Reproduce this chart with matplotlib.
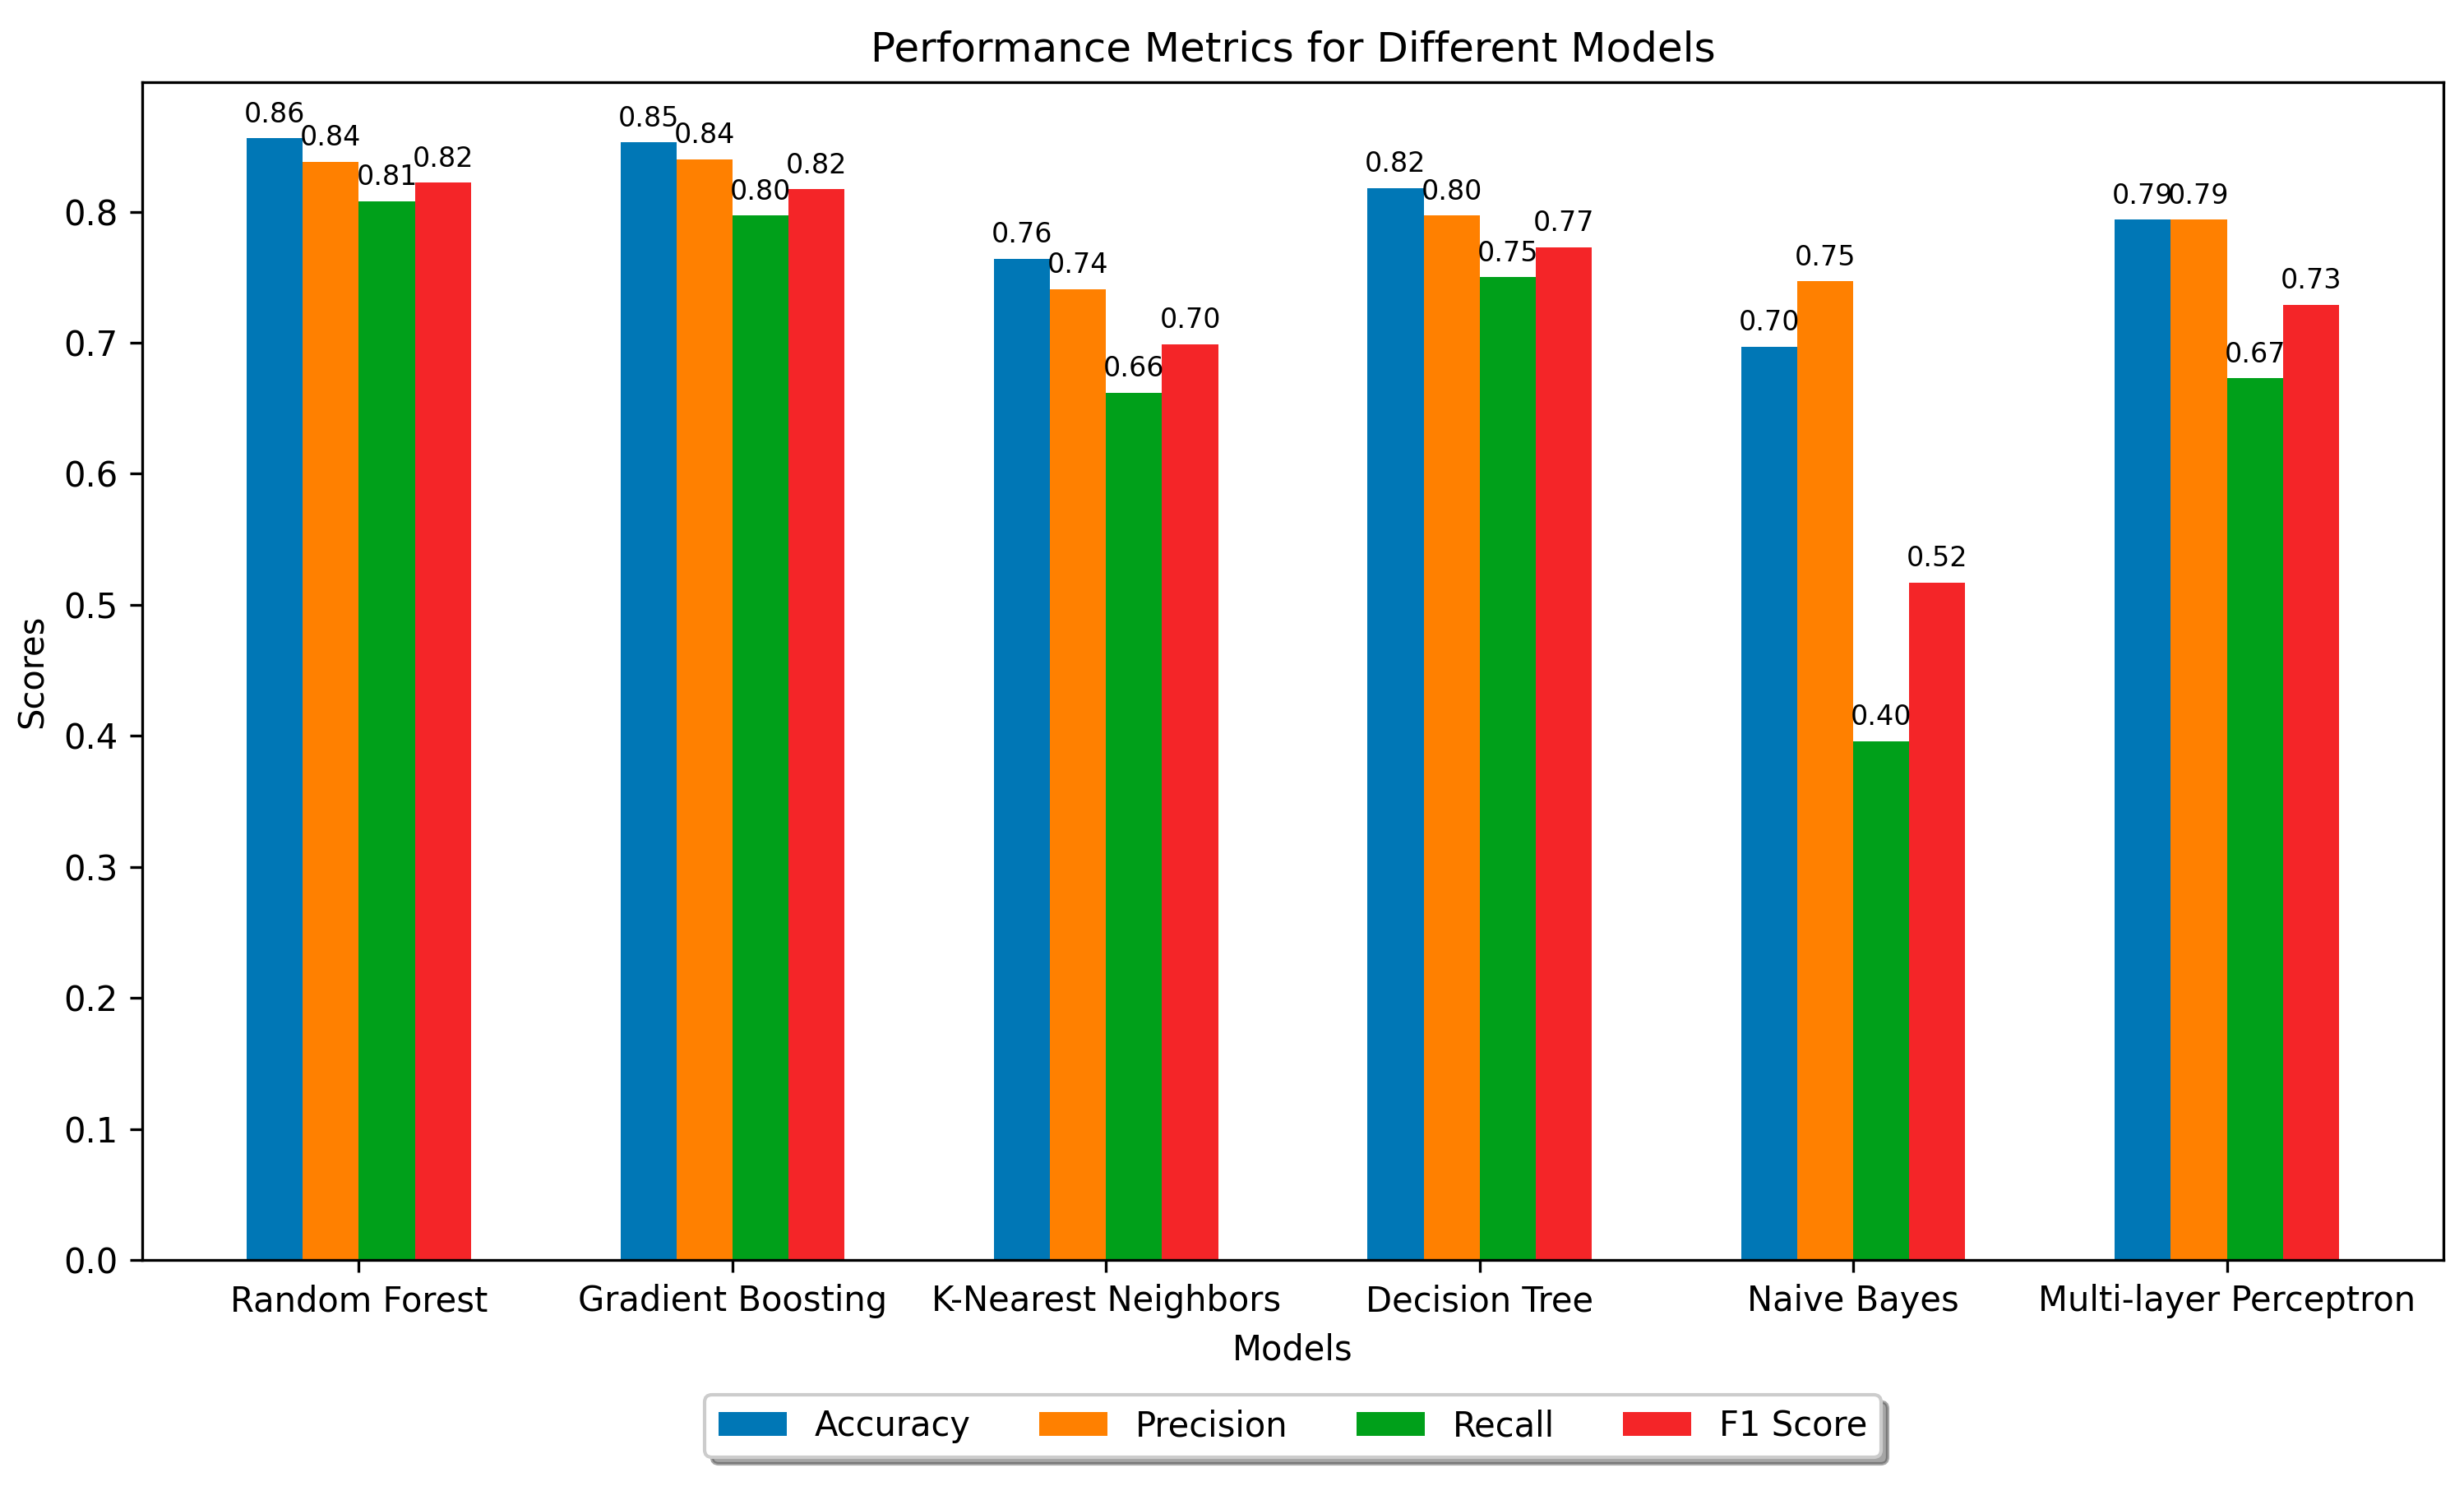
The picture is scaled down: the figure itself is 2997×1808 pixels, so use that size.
import matplotlib
matplotlib.use("Agg")
import matplotlib.pyplot as plt
import numpy as np

# Scores
models = ['Random Forest', 'Gradient Boosting', 'K-Nearest Neighbors',
          'Decision Tree', 'Naive Bayes', 'Multi-layer Perceptron']
accuracy = [0.856, 0.853, 0.764, 0.818, 0.697, 0.794]
precision = [0.838, 0.840, 0.741, 0.797, 0.747, 0.794]
recall = [0.808, 0.797, 0.662, 0.750, 0.396, 0.673]
f1_score = [0.822, 0.817, 0.699, 0.773, 0.517, 0.729]

metrics = {'Accuracy': accuracy, 'Precision': precision,
           'Recall': recall, 'F1 Score': f1_score}
colors = ['#0077b6', '#ff8000', '#00a01a', '#f42528']

fig = plt.figure(figsize=(9.99, 6.0267), dpi=300)
ax = fig.add_subplot(111)
fig.subplots_adjust(left=0.0577, right=0.9917, bottom=0.152, top=0.9447)

x = np.arange(len(models))
width = 0.15

for i, (name, vals) in enumerate(metrics.items()):
    bars = ax.bar(x + (i - 1.5) * width, vals, width, label=name, color=colors[i])
    for bar in bars:
        h = bar.get_height()
        ax.annotate(f'{h:.2f}', xy=(bar.get_x() + bar.get_width() / 2, h),
                    xytext=(0, 3), textcoords='offset points',
                    ha='center', va='bottom', fontsize=8)

ax.set_xlabel('Models')
ax.set_ylabel('Scores')
ax.set_title('Performance Metrics for Different Models')
ax.set_xticks(x)
ax.set_xticklabels(models)
ax.legend(loc='upper center', bbox_to_anchor=(0.5, -0.1),
          fancybox=True, shadow=True, ncol=4)

fig.savefig('out.png', dpi=300)
